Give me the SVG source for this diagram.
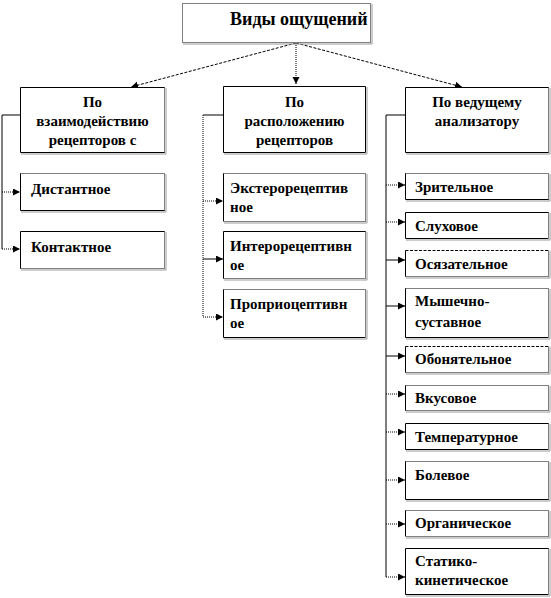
<svg xmlns="http://www.w3.org/2000/svg" width="551" height="598" viewBox="0 0 551 598">
<style>
.bg{fill:#ffffff;stroke:none}
.sh{fill:none;stroke:#9a9a9a;stroke-width:1}
.sol{fill:none;stroke:#000;stroke-width:1}
.dot{fill:none;stroke:#000;stroke-width:1;stroke-dasharray:1 1}
.t{font-family:"Liberation Serif","Times New Roman",serif;font-weight:bold;font-size:15px;fill:#000}
.tt{font-family:"Liberation Serif","Times New Roman",serif;font-weight:bold;font-size:18px;fill:#000}
.c{fill:none;stroke:#000;stroke-width:1}
.cd{fill:none;stroke:#000;stroke-width:1;stroke-dasharray:1 1}
.cl{fill:none;stroke:#000;stroke-width:1;stroke-dasharray:3 1.5}
</style>
<defs>
<marker id="ah" markerUnits="userSpaceOnUse" markerWidth="8" markerHeight="8" refX="7" refY="3.5" orient="auto">
<path d="M0,0 L7,3.5 L0,7 Z" fill="#000"/>
</marker>
</defs>
<rect x="0" y="0" width="551" height="598" fill="#ffffff"/>

<g id="connectors">
<path class="cl" d="M296,43 L131,87" marker-end="url(#ah)"/>
<path class="cd" d="M296,43 L296,84" marker-end="url(#ah)"/>
<path class="cl" d="M296,43 L462,87" marker-end="url(#ah)"/>

<path class="c" d="M20,115 H2 V249"/>
<path class="cd" d="M2,192 H20" marker-end="url(#ah)"/>
<path class="cd" d="M2,249 H20" marker-end="url(#ah)"/>

<path class="c" d="M223,115 H203"/>
<path class="cd" d="M203,115 V317"/>
<path class="cd" d="M203,201 H223" marker-end="url(#ah)"/>
<path class="c" d="M203,259 H223" marker-end="url(#ah)"/>
<path class="cd" d="M203,317 H223" marker-end="url(#ah)"/>

<path class="c" d="M405,115 H386 V577"/>
<path class="cd" d="M386,185 H405" marker-end="url(#ah)"/>
<path class="cd" d="M386,222 H405" marker-end="url(#ah)"/>
<path class="c" d="M386,260 H405" marker-end="url(#ah)"/>
<path class="c" d="M386,306 H405" marker-end="url(#ah)"/>
<path class="c" d="M386,356 H405" marker-end="url(#ah)"/>
<path class="cd" d="M386,394 H405" marker-end="url(#ah)"/>
<path class="cd" d="M386,432 H405" marker-end="url(#ah)"/>
<path class="cd" d="M386,480 H405" marker-end="url(#ah)"/>
<path class="cd" d="M386,524 H405" marker-end="url(#ah)"/>
<path class="cd" d="M386,577 H405" marker-end="url(#ah)"/>
</g>

<g id="n-title">
<rect class="bg" x="182" y="3" width="189" height="40"/>
<path class="dot" d="M182.5,3.5 H370.5 V42.5 H182.5 Z"/>
<path class="sh" d="M183,44 H372 V4"/>
<text class="tt" x="230" y="25">Виды ощущений</text>
</g>

<g id="n-left">
<rect class="bg" x="20" y="87" width="145" height="66"/>
<path class="sol" d="M20.5,87.5 H164.5 M20.5,87.5 V152.5 H164.5"/>
<path class="dot" d="M164.5,87.5 V152.5"/>
<path class="sh" d="M21,154 H166 V88"/>
<text class="t" x="92.5" y="107" text-anchor="middle">По</text>
<text class="t" x="92.5" y="126" text-anchor="middle">взаимодействию</text>
<text class="t" x="92.5" y="145" text-anchor="middle">рецепторов с</text>
</g>
<g id="n-dist">
<rect class="bg" x="20" y="173" width="145" height="38"/>
<path class="dot" d="M20.5,173.5 H164.5 V210.5"/>
<path class="sol" d="M20.5,173.5 V210.5 H164.5"/>
<path class="sh" d="M21,212 H166 V174"/>
<text class="t" x="31" y="194">Дистантное</text>
</g>
<g id="n-kont">
<rect class="bg" x="20" y="231" width="145" height="38"/>
<path class="sol" d="M20.5,231.5 H164.5 M20.5,231.5 V268.5"/>
<path class="dot" d="M164.5,231.5 V268.5 H20.5"/>
<path class="sh" d="M21,270 H166 V232"/>
<text class="t" x="31" y="252">Контактное</text>
</g>

<g id="n-mid">
<rect class="bg" x="223" y="86" width="143" height="67"/>
<path class="sol" d="M223.5,86.5 H365.5 V152.5 H223.5 Z"/>
<path class="sh" d="M224,154 H367 V87"/>
<text class="t" x="294.5" y="107" text-anchor="middle">По</text>
<text class="t" x="294.5" y="126" text-anchor="middle">расположению</text>
<text class="t" x="294.5" y="145" text-anchor="middle">рецепторов</text>
</g>
<g id="n-ekst">
<rect class="bg" x="223" y="173" width="143" height="49"/>
<path class="dot" d="M223.5,173.5 H365.5 V221.5 H223.5"/>
<path class="sol" d="M223.5,173.5 V221.5"/>
<path class="sh" d="M224,223 H367 V174"/>
<text class="t" x="230" y="193">Экстерорецептив</text>
<text class="t" x="230" y="212">ное</text>
</g>
<g id="n-inter">
<rect class="bg" x="223" y="231" width="143" height="48"/>
<path class="sol" d="M223.5,231.5 H365.5 M223.5,231.5 V278.5"/>
<path class="dot" d="M365.5,231.5 V278.5 H223.5"/>
<path class="sh" d="M224,280 H367 V232"/>
<text class="t" x="230" y="251">Интерорецептивн</text>
<text class="t" x="230" y="270">ое</text>
</g>
<g id="n-propr">
<rect class="bg" x="223" y="289" width="143" height="49"/>
<path class="dot" d="M223.5,289.5 H365.5 V337.5"/>
<path class="sol" d="M223.5,289.5 V337.5 H365.5"/>
<path class="sh" d="M224,339 H367 V290"/>
<text class="t" x="230" y="309">Проприоцептивн</text>
<text class="t" x="230" y="328">ое</text>
</g>

<g id="n-right">
<rect class="bg" x="405" y="87" width="144" height="66"/>
<path class="sol" d="M405.5,87.5 H548.5 M405.5,87.5 V152.5 H548.5"/>
<path class="dot" d="M548.5,87.5 V152.5"/>
<path class="sh" d="M406,154 H550 V88"/>
<text class="t" x="477" y="107" text-anchor="middle">По ведущему</text>
<text class="t" x="477" y="126" text-anchor="middle">анализатору</text>
</g>
<g id="n-zrit">
<rect class="bg" x="405" y="173" width="144" height="27"/>
<path class="dot" d="M405.5,173.5 H548.5 V199.5"/>
<path class="sol" d="M405.5,173.5 V199.5 H548.5"/>
<path class="sh" d="M406,201 H550 V174"/>
<text class="t" x="415" y="192">Зрительное</text>
</g>
<g id="n-sluh">
<rect class="bg" x="405" y="212" width="144" height="27"/>
<path class="sol" d="M405.5,212.5 H548.5 M405.5,212.5 V238.5 H548.5"/>
<path class="dot" d="M548.5,212.5 V238.5"/>
<path class="sh" d="M406,240 H550 V213"/>
<text class="t" x="415" y="231">Слуховое</text>
</g>
<g id="n-osyaz">
<rect class="bg" x="405" y="250" width="144" height="27"/>
<path class="cl" d="M405.5,250.5 H548.5"/>
<path class="dot" d="M548.5,250.5 V276.5 H405.5"/>
<path class="sol" d="M405.5,250.5 V276.5"/>
<path class="sh" d="M406,278 H550 V251"/>
<text class="t" x="415" y="269">Осязательное</text>
</g>
<g id="n-mysh">
<rect class="bg" x="405" y="288" width="144" height="50"/>
<path class="dot" d="M405.5,288.5 H548.5 V337.5"/>
<path class="sol" d="M405.5,288.5 V337.5 H548.5"/>
<path class="sh" d="M406,339 H550 V289"/>
<text class="t" x="415" y="306">Мышечно-</text>
<text class="t" x="415" y="327">суставное</text>
</g>
<g id="n-obon">
<rect class="bg" x="405" y="346" width="144" height="27"/>
<path class="cl" d="M405.5,346.5 H548.5"/>
<path class="dot" d="M548.5,346.5 V372.5 H405.5"/>
<path class="sol" d="M405.5,346.5 V372.5"/>
<path class="sh" d="M406,374 H550 V347"/>
<text class="t" x="415" y="364">Обонятельное</text>
</g>
<g id="n-vkus">
<rect class="bg" x="405" y="385" width="144" height="26"/>
<path class="dot" d="M405.5,385.5 H548.5 V410.5 H405.5"/>
<path class="sol" d="M405.5,385.5 V410.5"/>
<path class="sh" d="M406,412 H550 V386"/>
<text class="t" x="415" y="403">Вкусовое</text>
</g>
<g id="n-temp">
<rect class="bg" x="405" y="423" width="144" height="27"/>
<path class="sol" d="M405.5,423.5 H548.5 M405.5,423.5 V449.5 H548.5"/>
<path class="dot" d="M548.5,423.5 V449.5"/>
<path class="sh" d="M406,451 H550 V424"/>
<text class="t" x="415" y="442">Температурное</text>
</g>
<g id="n-bol">
<rect class="bg" x="405" y="461" width="144" height="39"/>
<path class="dot" d="M405.5,461.5 H548.5 V499.5"/>
<path class="sol" d="M405.5,461.5 V499.5 H548.5"/>
<path class="sh" d="M406,501 H550 V462"/>
<text class="t" x="415" y="480">Болевое</text>
</g>
<g id="n-organ">
<rect class="bg" x="405" y="510" width="144" height="27"/>
<path class="dot" d="M405.5,510.5 H548.5 V536.5 H405.5"/>
<path class="sol" d="M405.5,510.5 V536.5"/>
<path class="sh" d="M406,538 H550 V511"/>
<text class="t" x="415" y="528">Органическое</text>
</g>
<g id="n-stat">
<rect class="bg" x="405" y="548" width="144" height="47"/>
<path class="sol" d="M405.5,548.5 H548.5 M405.5,548.5 V594.5 H548.5"/>
<path class="dot" d="M548.5,548.5 V594.5"/>
<path class="sh" d="M406,596 H550 V549"/>
<text class="t" x="415" y="566">Статико-</text>
<text class="t" x="415" y="585">кинетическое</text>
</g>
</svg>
